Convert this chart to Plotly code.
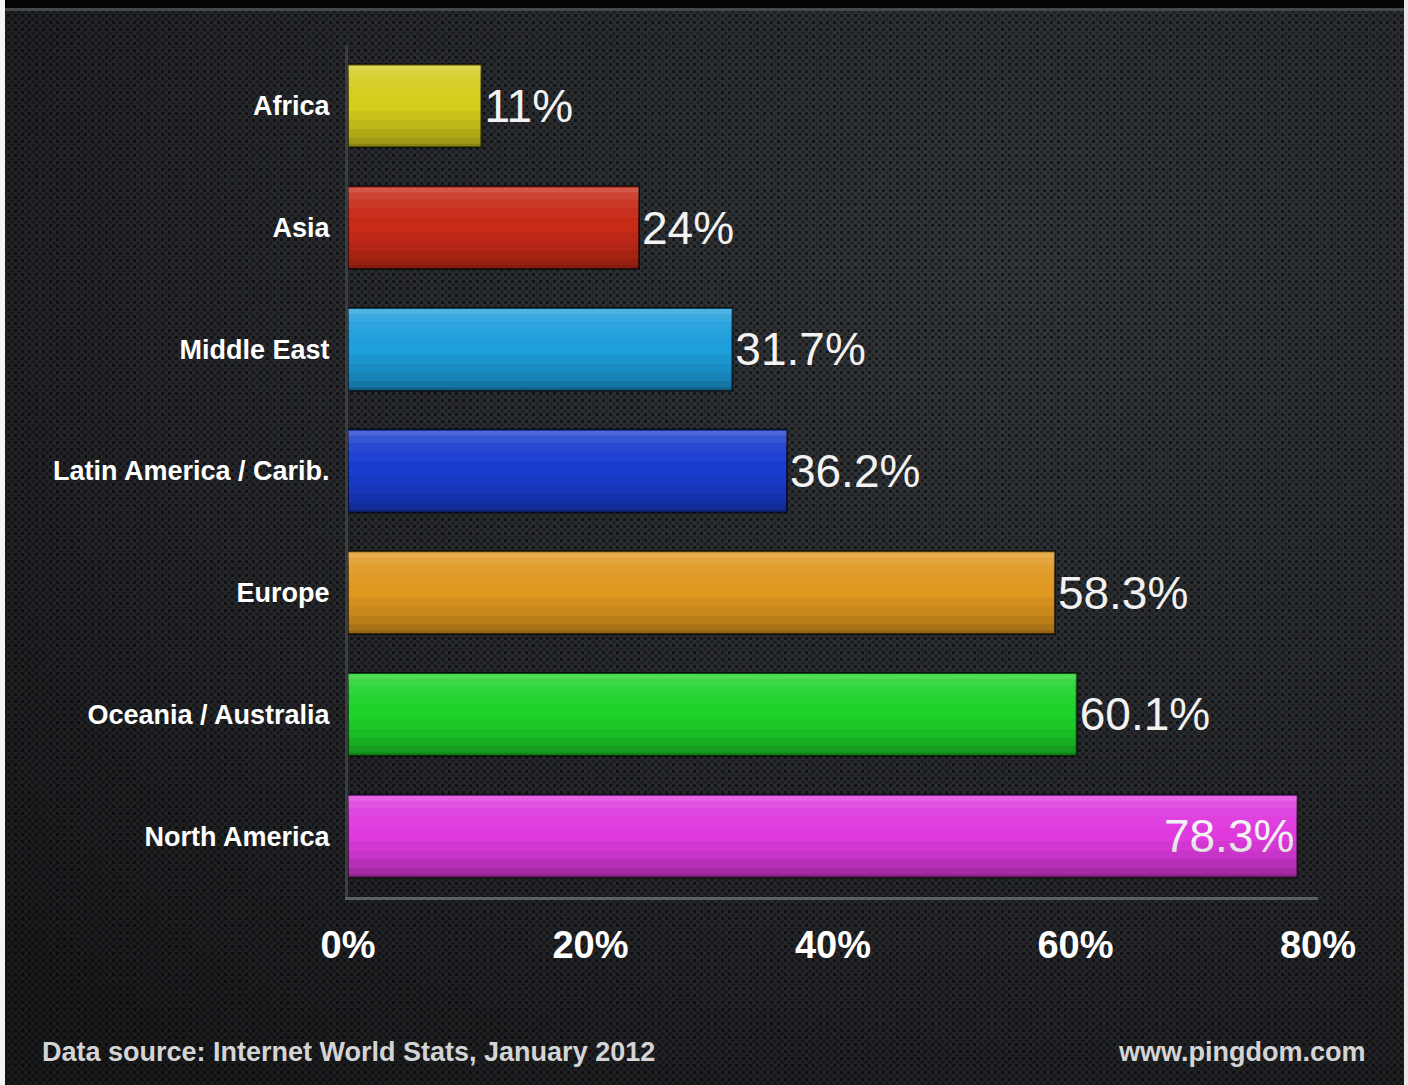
import urllib.parse
import plotly.graph_objects as go

regions = ["Africa", "Asia", "Middle East", "Latin America / Carib.",
           "Europe", "Oceania / Australia", "North America"]
penetration = [11, 24, 31.7, 36.2, 58.3, 60.1, 78.3]
value_labels = ["11%", "24%", "31.7%", "36.2%", "58.3%", "60.1%", "78.3%"]
bar_colors = ["#d4cd1c", "#c82a18", "#1e9edb", "#1a3dd0", "#e09820", "#1ed22a", "#de3ade"]
x_ticks = [0, 20, 40, 60, 80]
x_tick_labels = ["0%", "20%", "40%", "60%", "80%"]
source_text = "Data source: Internet World Stats, January 2012"
site_text = "www.pingdom.com"

W, H = 1408, 1085
L, R, T, B = 348, 90, 45, 188
PW, PH = W - L - R, H - T - B

bg_svg = (
    "<svg xmlns='http://www.w3.org/2000/svg' width='1408' height='1085'>"
    "<defs>"
    "<radialGradient id='g' cx='0.72' cy='0.25' r='0.95'>"
    "<stop offset='0' stop-color='#33363a'/>"
    "<stop offset='0.65' stop-color='#242629'/>"
    "<stop offset='1' stop-color='#191a1c'/>"
    "</radialGradient>"
    "<pattern id='p' width='7' height='7' patternUnits='userSpaceOnUse'>"
    "<rect x='0' y='0' width='3' height='3' fill='#000' fill-opacity='0.55'/>"
    "<rect x='3.5' y='3.5' width='3' height='3' fill='#000' fill-opacity='0.35'/>"
    "</pattern>"
    "</defs>"
    "<rect width='1408' height='1085' fill='url(#g)'/>"
    "<rect width='1408' height='1085' fill='url(#p)'/>"
    "<rect width='1408' height='8' fill='#050505'/>"
    "<rect y='8' width='1408' height='3' fill='#45484b'/>"
    "<rect width='5' height='1085' fill='#f4f4f4'/>"
    "<rect x='1404' width='4' height='1085' fill='#e8e8e8'/>"
    "</svg>"
)
bg_uri = "data:image/svg+xml;charset=utf-8," + urllib.parse.quote(bg_svg)

text_pos = ["outside"] * 6 + ["inside"]
FONT = "Liberation Sans, Arial, sans-serif"

fig = go.Figure()
fig.add_trace(go.Bar(
    y=regions, x=penetration, orientation="h",
    marker=dict(color=bar_colors, line=dict(color="rgba(0,0,0,0.6)", width=2)),
    width=0.68,
    text=value_labels, textposition=text_pos,
    insidetextanchor="end",
    textfont=dict(family=FONT, size=46, color="#f2f2f2"),
    cliponaxis=False,
    hoverinfo="skip",
))
# soft vertical shading layers (highlight at top, shade at bottom)
shade_layers = [
    (-0.33, 0.04, "rgba(255,255,255,0.22)"),
    (-0.29, 0.06, "rgba(255,255,255,0.13)"),
    (-0.23, 0.07, "rgba(255,255,255,0.07)"),
    (-0.16, 0.08, "rgba(255,255,255,0.03)"),
    (0.04, 0.08, "rgba(0,0,0,0.05)"),
    (0.12, 0.07, "rgba(0,0,0,0.10)"),
    (0.19, 0.07, "rgba(0,0,0,0.17)"),
    (0.26, 0.05, "rgba(0,0,0,0.25)"),
    (0.31, 0.03, "rgba(0,0,0,0.35)"),
]
for off, wd, col in shade_layers:
    fig.add_trace(go.Bar(
        y=regions, x=penetration, orientation="h",
        marker=dict(color=col, line=dict(width=0)),
        width=wd, offset=off,
        hoverinfo="skip",
    ))

fig.update_layout(
    width=W, height=H,
    barmode="overlay",
    showlegend=False,
    paper_bgcolor="#222427",
    plot_bgcolor="rgba(0,0,0,0)",
    margin=dict(l=L, r=R, t=T, b=B),
    images=[dict(source=bg_uri, xref="paper", yref="paper",
                 x=-L / PW, y=1 + T / PH, sizex=W / PW, sizey=H / PH,
                 xanchor="left", yanchor="top", layer="below", sizing="stretch")],
    font=dict(family=FONT, color="#ffffff"),
)

fig.update_xaxes(
    range=[0, 80], tickvals=x_ticks, ticktext=x_tick_labels,
    showgrid=False, zeroline=False,
    showline=True, linecolor="#5c6064", linewidth=3,
    ticks="outside", ticklen=0, ticklabelstandoff=12,
    tickfont=dict(family=FONT, size=38, color="#ffffff", weight="bold"),
    fixedrange=True,
)
fig.update_yaxes(
    categoryorder="array", categoryarray=regions, autorange="reversed",
    showgrid=False, zeroline=False,
    showline=True, linecolor="#3a3e42", linewidth=3,
    ticks="outside", ticklen=0, ticklabelstandoff=10,
    tickfont=dict(family=FONT, size=27, color="#ffffff", weight="bold"),
    fixedrange=True,
)

fig.add_annotation(text=source_text, xref="paper", yref="paper",
                   x=(40 - L) / PW, y=-(1052 - (T + PH)) / PH,
                   xanchor="left", yanchor="middle", showarrow=False,
                   font=dict(size=27, color="#d4d4d4", weight="bold"))
fig.add_annotation(text=site_text, xref="paper", yref="paper",
                   x=1 + (1368 - (L + PW)) / PW, y=-(1052 - (T + PH)) / PH,
                   xanchor="right", yanchor="middle", showarrow=False,
                   font=dict(size=27, color="#d4d4d4", weight="bold"))

fig.write_html("out.html", config={"displayModeBar": False},
               post_script="document.body.style.margin='0';document.body.style.overflow='hidden';")
